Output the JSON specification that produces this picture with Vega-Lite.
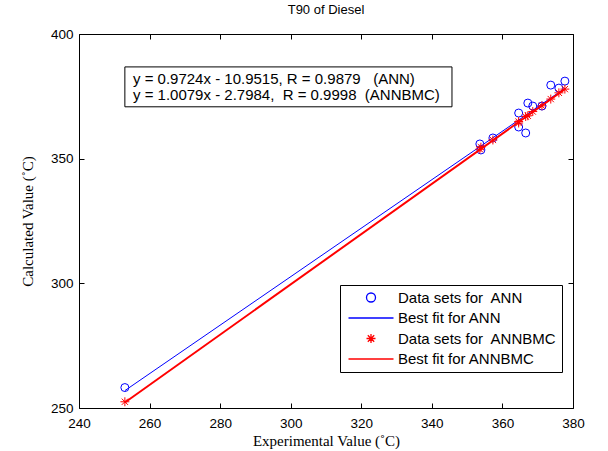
{
  "$schema": "https://vega.github.io/schema/vega-lite/v6.json",
  "autosize": {"type": "none"},
  "padding": {"left": 79, "top": 34, "right": 35, "bottom": 43},
  "width": 494,
  "height": 374,
  "background": "white",
  "title": {"text": "T90 of Diesel", "font": "Liberation Sans", "fontSize": 13, "fontWeight": "normal", "color": "black", "offset": 10, "anchor": "middle"},
  "config": {
    "view": {"stroke": "black", "strokeWidth": 1},
    "axis": {"grid": true, "gridColor": "#000000", "gridOpacity": 1, "gridWidth": 1, "domain": false, "ticks": false, "labelColor": "black", "titleColor": "black", "labelFont": "Liberation Sans", "labelFontSize": 13.5, "titleFont": "Liberation Serif", "titleFontSize": 15, "titleFontWeight": "normal", "labelPadding": 6, "labelFlush": false}
  },
  "datasets": {
    "ann": [
      {"series": "Data sets for\u00a0 ANN", "x": 253.0, "y": 258.2},
      {"series": "Data sets for\u00a0 ANN", "x": 353.6, "y": 355.9},
      {"series": "Data sets for\u00a0 ANN", "x": 353.9, "y": 353.5},
      {"series": "Data sets for\u00a0 ANN", "x": 357.3, "y": 358.3},
      {"series": "Data sets for\u00a0 ANN", "x": 364.6, "y": 368.3},
      {"series": "Data sets for\u00a0 ANN", "x": 364.6, "y": 362.7},
      {"series": "Data sets for\u00a0 ANN", "x": 366.6, "y": 360.3},
      {"series": "Data sets for\u00a0 ANN", "x": 367.2, "y": 372.3},
      {"series": "Data sets for\u00a0 ANN", "x": 368.6, "y": 371.1},
      {"series": "Data sets for\u00a0 ANN", "x": 371.2, "y": 371.1},
      {"series": "Data sets for\u00a0 ANN", "x": 373.7, "y": 379.5},
      {"series": "Data sets for\u00a0 ANN", "x": 376.0, "y": 378.3},
      {"series": "Data sets for\u00a0 ANN", "x": 377.7, "y": 381.1}
    ],
    "bmc": [
      {"series": "Data sets for\u00a0 ANNBMC", "x": 253.0, "y": 252.5},
      {"series": "Data sets for\u00a0 ANNBMC", "x": 353.6, "y": 353.8},
      {"series": "Data sets for\u00a0 ANNBMC", "x": 353.9, "y": 354.6},
      {"series": "Data sets for\u00a0 ANNBMC", "x": 357.3, "y": 357.5},
      {"series": "Data sets for\u00a0 ANNBMC", "x": 364.6, "y": 364.9},
      {"series": "Data sets for\u00a0 ANNBMC", "x": 364.6, "y": 364.3},
      {"series": "Data sets for\u00a0 ANNBMC", "x": 366.6, "y": 366.9},
      {"series": "Data sets for\u00a0 ANNBMC", "x": 367.2, "y": 367.2},
      {"series": "Data sets for\u00a0 ANNBMC", "x": 368.6, "y": 368.9},
      {"series": "Data sets for\u00a0 ANNBMC", "x": 371.2, "y": 371.2},
      {"series": "Data sets for\u00a0 ANNBMC", "x": 373.7, "y": 373.9},
      {"series": "Data sets for\u00a0 ANNBMC", "x": 376.0, "y": 376.4},
      {"series": "Data sets for\u00a0 ANNBMC", "x": 377.7, "y": 377.9}
    ],
    "fitann": [
      {"series": "Best fit for ANN", "x": 253.0, "y": 256.97},
      {"series": "Best fit for ANN", "x": 377.7, "y": 378.23}
    ],
    "fitbmc": [
      {"series": "Best fit for ANNBMC", "x": 253.0, "y": 252.2},
      {"series": "Best fit for ANNBMC", "x": 377.7, "y": 377.9}
    ],
    "box": [
      {"x": 253.0, "x2": 345.7, "y": 386.8, "y2": 370.8}
    ],
    "notes": [
      {"x": 255.3, "y": 382.0, "label": "y = 0.9724x - 10.9515, R = 0.9879 \u00a0\u00a0(ANN)"},
      {"x": 255.3, "y": 375.4, "label": "y = 1.0079x - 2.7984, \u00a0R = 0.9998 \u00a0(ANNBMC)"}
    ],
    "none": []
  },
  "layer": [
    {
      "data": {"name": "ann"},
      "mark": {"type": "point", "filled": false, "strokeWidth": 1, "opacity": 1, "size": 64, "shape": "circle"},
      "encoding": {
        "x": {"field": "x", "type": "quantitative", "scale": {"domain": [240, 380], "nice": false, "zero": false}, "axis": {"orient": "bottom", "values": [240, 260, 280, 300, 320, 340, 360, 380], "gridDash": [5, 364, 5, 0], "title": "Experimental Value (\u02daC)", "titlePadding": 4, "labelPadding": 8}},
        "y": {"field": "y", "type": "quantitative", "scale": {"domain": [250, 400], "nice": false, "zero": false}, "axis": {"orient": "left", "values": [250, 300, 350, 400], "gridDash": [5, 484, 5, 0], "title": "Calculated Value (\u02daC)", "titlePadding": 15}},
        "color": {"field": "series", "type": "nominal", "title": null, "scale": {"domain": ["Data sets for\u00a0 ANN", "Best fit for ANN", "Data sets for\u00a0 ANNBMC", "Best fit for ANNBMC"], "range": ["#0000ff", "#0000ff", "#ff0000", "#ff0000"]},
          "legend": {"orient": "none", "legendX": 261, "legendY": 251, "strokeColor": "black", "fillColor": "white", "padding": 5, "labelFont": "Liberation Sans", "labelFontSize": 15, "labelColor": "black", "labelOffset": 38, "rowPadding": 4.5, "symbolSize": 100, "symbolStrokeWidth": 1.3, "symbolOpacity": 1}}
      }
    },
    {
      "data": {"name": "fitann"},
      "mark": {"type": "line", "strokeWidth": 1},
      "encoding": {
        "x": {"field": "x", "type": "quantitative"},
        "y": {"field": "y", "type": "quantitative"},
        "color": {"field": "series", "type": "nominal", "title": null}
      }
    },
    {
      "data": {"name": "bmc"},
      "mark": {"type": "point", "filled": false, "strokeWidth": 1, "opacity": 1, "size": 80, "shape": "M0,-1L0,1M-1,0L1,0M-0.7,-0.7L0.7,0.7M-0.7,0.7L0.7,-0.7"},
      "encoding": {
        "x": {"field": "x", "type": "quantitative"},
        "y": {"field": "y", "type": "quantitative"},
        "color": {"field": "series", "type": "nominal", "title": null}
      }
    },
    {
      "data": {"name": "fitbmc"},
      "mark": {"type": "line", "strokeWidth": 2},
      "encoding": {
        "x": {"field": "x", "type": "quantitative"},
        "y": {"field": "y", "type": "quantitative"},
        "color": {"field": "series", "type": "nominal", "title": null}
      }
    },
    {
      "data": {"name": "none"},
      "mark": {"type": "point", "filled": false, "strokeWidth": 1, "opacity": 1},
      "encoding": {
        "x": {"field": "x", "type": "quantitative"},
        "y": {"field": "y", "type": "quantitative"},
        "color": {"field": "series", "type": "nominal", "title": null},
        "shape": {"field": "series", "type": "nominal", "title": null, "scale": {"domain": ["Data sets for\u00a0 ANN", "Best fit for ANN", "Data sets for\u00a0 ANNBMC", "Best fit for ANNBMC"], "range": ["M2.8,0A0.9,0.9,0,1,1,4.6,0A0.9,0.9,0,1,1,2.8,0Z", "M-0.8,0L8.2,0", "M3.7,-0.9L3.7,0.9M2.8,0L4.6,0M3.06,-0.64L4.34,0.64M3.06,0.64L4.34,-0.64", "M-0.8,0L8.2,0"]},
          "legend": {"orient": "none", "legendX": 261, "legendY": 251, "strokeColor": "black", "fillColor": "white", "padding": 5, "labelFont": "Liberation Sans", "labelFontSize": 15, "labelColor": "black", "labelOffset": 38, "rowPadding": 4.5, "symbolSize": 100, "symbolStrokeWidth": 1.3, "symbolOpacity": 1}}
      }
    },
    {
      "data": {"name": "box"},
      "mark": {"type": "rect", "fill": "white", "stroke": "black", "strokeWidth": 1},
      "encoding": {
        "x": {"field": "x", "type": "quantitative"},
        "x2": {"field": "x2"},
        "y": {"field": "y", "type": "quantitative"},
        "y2": {"field": "y2"}
      }
    },
    {
      "data": {"name": "notes"},
      "mark": {"type": "text", "align": "left", "baseline": "middle", "font": "Liberation Sans", "fontSize": 15, "color": "black"},
      "encoding": {
        "x": {"field": "x", "type": "quantitative"},
        "y": {"field": "y", "type": "quantitative"},
        "text": {"field": "label"}
      }
    }
  ]
}
